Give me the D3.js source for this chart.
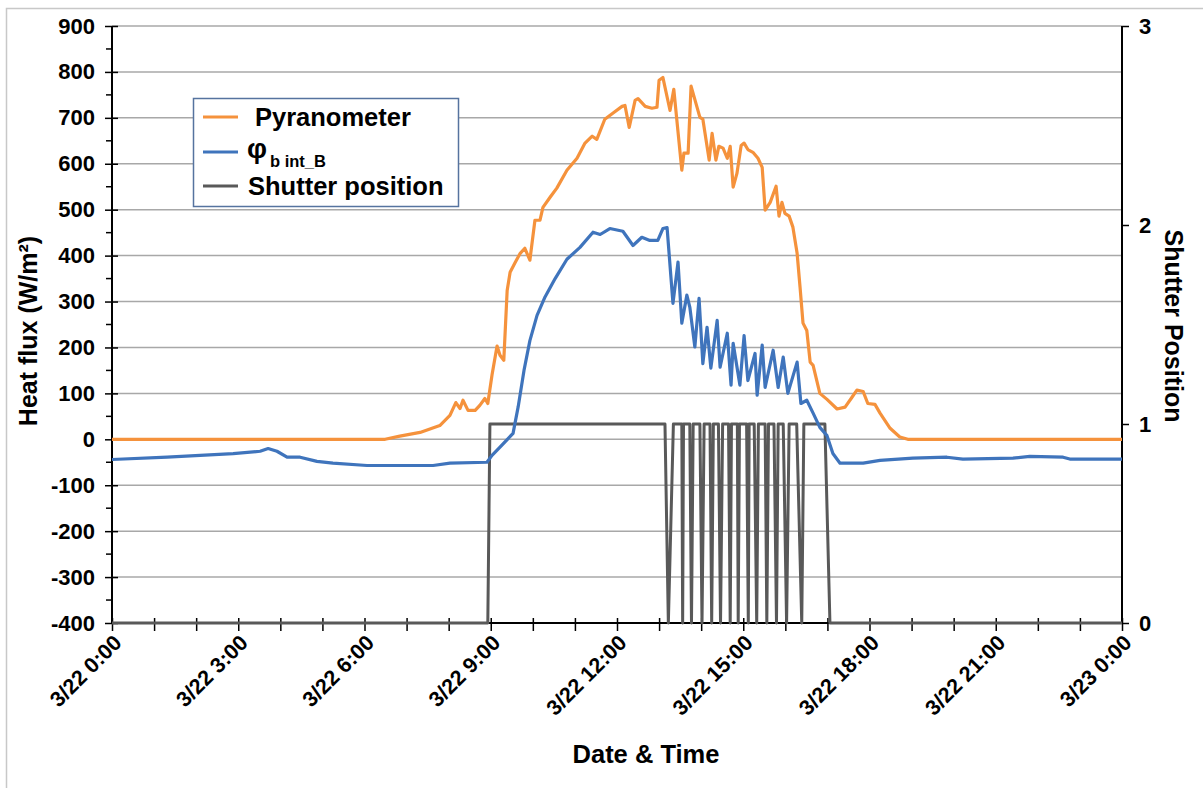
<!DOCTYPE html>
<html><head><meta charset="utf-8">
<script src="https://cdn.jsdelivr.net/npm/d3@7"></script>
<style>body{margin:0;background:#fff}svg{display:block}</style>
</head><body><svg id="c" width="1203" height="788"></svg>
<script>
// ---- data (hours since 3/22 0:00) ----
const xLabelHours = [0, 3, 6, 9, 12, 15, 18, 21, 24];
const xTickLabels = ["3/22 0:00","3/22 3:00","3/22 6:00","3/22 9:00","3/22 12:00","3/22 15:00","3/22 18:00","3/22 21:00","3/23 0:00"];
const leftTicks = [-400,-300,-200,-100,0,100,200,300,400,500,600,700,800,900];
const rightTicks = [0, 1, 2, 3];

const pyranometer = [
 [0,0],[6.49,0],[6.84,7],[7.32,15],[7.79,30],[8.03,52],[8.17,80],[8.27,67],[8.34,85],[8.46,63],
 [8.63,63],[8.74,74],[8.86,89],[8.93,78],[9.03,140],[9.15,203],[9.22,183],[9.31,172],[9.39,324],
 [9.46,364],[9.58,385],[9.70,405],[9.81,416],[9.93,390],[10.05,477],[10.17,477],[10.24,505],
 [10.41,527],[10.57,547],[10.81,586],[11.05,612],[11.24,645],[11.41,660],[11.52,653],[11.71,697],
 [11.90,710],[12.12,725],[12.19,727],[12.29,679],[12.43,738],[12.50,742],[12.67,725],[12.83,721],
 [12.95,723],[13.00,782],[13.09,788],[13.26,716],[13.35,762],[13.54,586],[13.59,623],[13.69,623],
 [13.76,769],[13.97,701],[14.04,697],[14.19,608],[14.26,666],[14.35,608],[14.42,638],[14.52,634],
 [14.62,612],[14.69,638],[14.76,549],[14.85,579],[14.95,640],[15.02,645],[15.11,631],[15.23,625],
 [15.35,612],[15.45,592],[15.52,499],[15.64,516],[15.78,551],[15.85,486],[15.92,516],[15.99,492],
 [16.09,486],[16.18,462],[16.28,405],[16.35,331],[16.42,253],[16.51,237],[16.59,168],[16.66,161],
 [16.82,100],[16.99,87],[17.23,66],[17.42,70],[17.58,91],[17.70,107],[17.85,104],[17.96,78],
 [18.13,76],[18.25,57],[18.49,24],[18.72,5],[18.91,0],[24,0]
];

const phiBintB = [
 [0,-44],[1.31,-39],[2.88,-31],[3.52,-26],[3.71,-20],[3.92,-26],[4.16,-39],[4.47,-39],[4.87,-48],
 [5.25,-52],[6.06,-57],[7.63,-57],[8.03,-52],[8.91,-50],[9.03,-35],[9.22,-17],[9.53,13],[9.65,70],
 [9.79,150],[9.93,215],[10.10,270],[10.29,310],[10.53,350],[10.81,392],[11.12,418],[11.43,451],
 [11.60,446],[11.83,459],[12.14,453],[12.38,422],[12.59,440],[12.78,433],[12.97,433],[13.09,459],
 [13.19,461],[13.33,296],[13.45,386],[13.54,253],[13.66,314],[13.73,288],[13.85,201],[13.95,307],
 [14.04,165],[14.14,244],[14.23,155],[14.38,259],[14.45,157],[14.62,231],[14.71,118],[14.76,209],
 [14.92,118],[15.02,226],[15.11,128],[15.28,187],[15.33,96],[15.45,205],[15.52,113],[15.71,194],
 [15.83,113],[15.95,179],[16.06,100],[16.28,168],[16.37,78],[16.51,85],[16.66,57],[16.82,26],
 [16.99,8],[17.13,-31],[17.30,-52],[17.85,-52],[18.25,-46],[19.03,-41],[19.84,-39],[20.22,-43],
 [21.41,-41],[21.81,-37],[22.60,-39],[22.76,-43],[24,-43]
];

const shutter = [
 [0,0],[8.93,0],[8.98,1],[13.14,1],[13.22,0],[13.34,1],[13.54,1],[13.56,0],[13.58,1],[13.73,1],
 [13.77,0],[13.81,1],[13.97,1],[14.02,0],[14.07,1],[14.21,1],[14.25,0],[14.29,1],[14.41,1],[14.46,0],
 [14.51,1],[14.65,1],[14.69,0],[14.72,1],[14.86,1],[14.88,0],[14.91,1],[15.08,1],[15.12,0],[15.14,1],
 [15.26,1],[15.32,0],[15.36,1],[15.52,1],[15.56,0],[15.60,1],[15.73,1],[15.79,0],[15.83,1],[15.95,1],
 [16.03,0],[16.09,1],[16.27,1],[16.39,0],[16.44,1],[16.94,1],[17.06,0],[24,0]
];

const seriesNames = ["Pyranometer", "φ", "Shutter position"];
const colors = {pyr: "#F5923C", phi: "#3F74BC", sh: "#595959"};

// ---- layout ----
const svg = d3.select("#c");
const L = 112, R = 1122, T = 26, B = 623;
const x = d3.scaleLinear().domain([0, 24]).range([L, R]);
const y = d3.scaleLinear().domain([-400, 900]).range([B, T]);
const y2 = d3.scaleLinear().domain([0, 3]).range([B, T]);
const font = "'Liberation Sans', Arial, sans-serif";

// outer frame
svg.append("rect").attr("x", 6.5).attr("y", 8.5).attr("width", 1300).attr("height", 1000)
  .attr("fill", "none").attr("stroke", "#c8c8c8").attr("stroke-width", 1.5);

// gridlines
svg.append("g").selectAll("line").data(leftTicks.filter(d => d > -400)).join("line")
  .attr("x1", L).attr("x2", R).attr("y1", d => y(d)).attr("y2", d => y(d))
  .attr("stroke", "#a8a8a8").attr("stroke-width", 1.5);

// left axis
const gL = svg.append("g").attr("transform", `translate(${L},0)`)
  .call(d3.axisLeft(y).tickValues(leftTicks).tickSize(7).tickPadding(10).tickFormat(d => String(d)));
gL.selectAll(".tick line").attr("x2", -7).attr("x1", 6);
// minor ticks
gL.append("g").selectAll("line").data(d3.range(-350, 900, 100)).join("line")
  .attr("x1", 0).attr("x2", -6).attr("y1", d => y(d)).attr("y2", d => y(d)).attr("stroke", "#000").attr("stroke-width", 1.5);

// right axis
const gR = svg.append("g").attr("transform", `translate(${R},0)`)
  .call(d3.axisRight(y2).tickValues(rightTicks).tickSize(7).tickPadding(10).tickFormat(d => String(d)));

// bottom axis
const gB = svg.append("g").attr("transform", `translate(0,${B})`)
  .call(d3.axisBottom(x).tickValues(d3.range(0, 25, 1)).tickSize(8).tickFormat(""));
gB.selectAll(".tick line").attr("y1", -5);

[gL, gR, gB].forEach(g => {
  g.select(".domain").attr("stroke", "#000").attr("stroke-width", 2);
  g.selectAll(".tick line").attr("stroke", "#000").attr("stroke-width", 1.5);
  g.selectAll(".tick text").attr("font-family", font).attr("font-size", 22).attr("font-weight", "bold").attr("fill", "#000");
});
gR.select(".domain").attr("d", `M0,${T}V${B}`);
gL.select(".domain").attr("d", `M0,${T}V${B}`);
gB.select(".domain").attr("d", `M${L},0H${R}`);

// x tick labels rotated
svg.append("g").selectAll("text").data(xLabelHours).join("text")
  .attr("transform", d => `translate(${x(d) + 11},${B + 21}) rotate(-45)`)
  .attr("text-anchor", "end")
  .attr("font-family", font).attr("font-size", 21.5).attr("font-weight", "bold")
  .text((d, i) => xTickLabels[i]);

// lines
const lineL = d3.line().x(d => x(d[0])).y(d => y(d[1]));
const lineR = d3.line().x(d => x(d[0])).y(d => y2(d[1]));
svg.append("path").datum(shutter).attr("d", lineR).attr("fill", "none")
  .attr("stroke", colors.sh).attr("stroke-width", 3).attr("stroke-linejoin", "round");
svg.append("path").datum(pyranometer).attr("d", lineL).attr("fill", "none")
  .attr("stroke", colors.pyr).attr("stroke-width", 3.2).attr("stroke-linejoin", "round");
svg.append("path").datum(phiBintB).attr("d", lineL).attr("fill", "none")
  .attr("stroke", colors.phi).attr("stroke-width", 3.2).attr("stroke-linejoin", "round");

// axis titles
svg.append("text").attr("transform", `translate(37,331) rotate(-90)`).attr("text-anchor", "middle")
  .attr("font-family", font).attr("font-size", 25).attr("font-weight", "bold").text("Heat  flux (W/m²)");
svg.append("text").attr("transform", `translate(1165,326) rotate(90)`).attr("text-anchor", "middle")
  .attr("font-family", font).attr("font-size", 25).attr("font-weight", "bold").text("Shutter Position");
svg.append("text").attr("x", 646).attr("y", 763).attr("text-anchor", "middle")
  .attr("font-family", font).attr("font-size", 25.5).attr("font-weight", "bold").text("Date & Time");

// legend
const lg = svg.append("g");
lg.append("rect").attr("x", 193.5).attr("y", 98.5).attr("width", 265).attr("height", 108)
  .attr("fill", "#fff").attr("stroke", "#56739f").attr("stroke-width", 1.5);
const ly = [117, 152, 186];
const lc = [colors.pyr, colors.phi, colors.sh];
lg.selectAll("line").data(ly).join("line").attr("x1", 203).attr("x2", 238)
  .attr("y1", d => d).attr("y2", d => d).attr("stroke", (d, i) => lc[i]).attr("stroke-width", 3);
lg.append("text").attr("x", 255).attr("y", 126).attr("font-family", font).attr("font-size", 25.5)
  .attr("font-weight", "bold").text(seriesNames[0]);
const t2 = lg.append("text").attr("x", 247).attr("y", 158).attr("font-family", font).attr("font-weight", "bold");
t2.append("tspan").attr("font-size", 28).text(seriesNames[1]);
t2.append("tspan").attr("font-size", 16.5).attr("dx", 3).attr("dy", 9).text("b int_B");
lg.append("text").attr("x", 248).attr("y", 195).attr("font-family", font).attr("font-size", 25.5)
  .attr("font-weight", "bold").text(seriesNames[2]);
</script>
</body></html>
